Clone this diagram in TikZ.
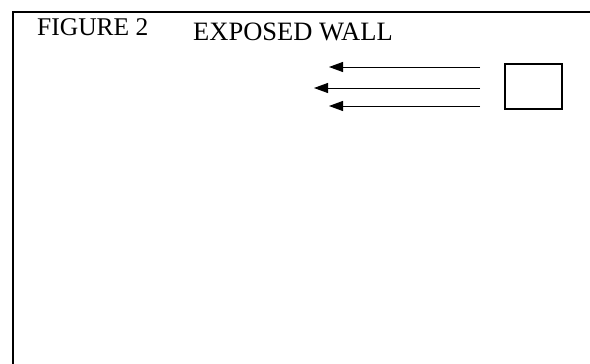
\documentclass[tikz,border=0pt]{standalone}
\usepackage{fontspec}
\setmainfont{Liberation Serif}
\usetikzlibrary{arrows.meta}
\begin{document}
\begin{tikzpicture}[x=1pt,y=-1pt,
  lbl/.style={anchor=base west,inner sep=0pt,font=\fontsize{25.5}{30}\selectfont},
  flow/.style={line width=0.9pt,-{Triangle[length=14pt,width=10pt]}},
  frame/.style={line width=1.6pt}]
\useasboundingbox (0,0) rectangle (590,364);
\draw[frame] (13,370) -- (13,12) -- (592,12);
\node[lbl] (fig) at (37,35) {FIGURE 2};
\node[lbl,font=\fontsize{26.5}{31}\selectfont] (title) at (193,40) {EXPOSED WALL};
\node[draw,line width=1.1pt,minimum width=57pt,minimum height=45pt,inner sep=0pt] (box) at (533.5,86.5) {};
\coordinate (s1) at (480,67);
\coordinate (e1) at (329,67);
\coordinate (s2) at (480,88);
\coordinate (e2) at (314,88);
\coordinate (s3) at (480,106);
\coordinate (e3) at (329,106);
\draw[flow] (s1) -- (e1);
\draw[flow] (s2) -- (e2);
\draw[flow] (s3) -- (e3);
\end{tikzpicture}
\end{document}
